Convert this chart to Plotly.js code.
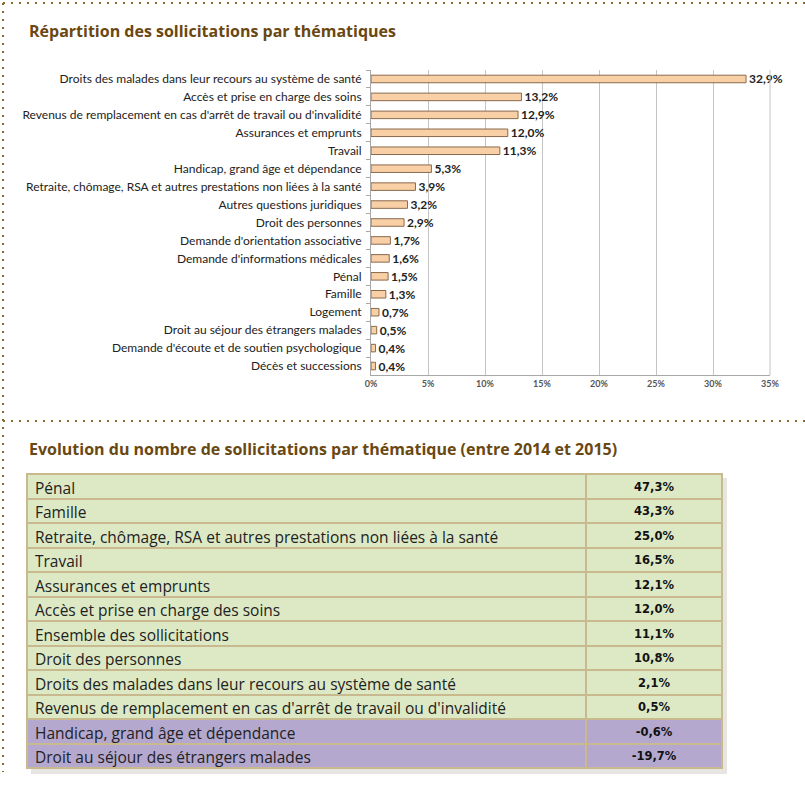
<!DOCTYPE html>
<html>
<head>
<meta charset="utf-8">
<script src="https://cdn.plot.ly/plotly-3.0.1.min.js"></script>
<style>html,body{margin:0;padding:0;background:#fff;}#chart{width:805px;height:800px;}</style>
</head>
<body>
<div id="chart"></div>
<script>
// ---- Data: Répartition des sollicitations par thématiques ----
var themes = [
  "Droits des malades dans leur recours au système de santé",
  "Accès et prise en charge des soins",
  "Revenus de remplacement en cas d'arrêt de travail ou d'invalidité",
  "Assurances et emprunts",
  "Travail",
  "Handicap, grand âge et dépendance",
  "Retraite, chômage, RSA et autres prestations non liées à la santé",
  "Autres questions juridiques",
  "Droit des personnes",
  "Demande d'orientation associative",
  "Demande d'informations médicales",
  "Pénal",
  "Famille",
  "Logement",
  "Droit au séjour des étrangers malades",
  "Demande d'écoute et de soutien psychologique",
  "Décès et successions"
];
var shares = [32.9, 13.2, 12.9, 12.0, 11.3, 5.3, 3.9, 3.2, 2.9, 1.7, 1.6, 1.5, 1.3, 0.7, 0.5, 0.4, 0.4];
var xTicks = [0, 5, 10, 15, 20, 25, 30, 35];

// ---- Data: Evolution 2014-2015 ----
var evoThemes = [
  "Pénal",
  "Famille",
  "Retraite, chômage, RSA et autres prestations non liées à la santé",
  "Travail",
  "Assurances et emprunts",
  "Accès et prise en charge des soins",
  "Ensemble des sollicitations",
  "Droit des personnes",
  "Droits des malades dans leur recours au système de santé",
  "Revenus de remplacement en cas d'arrêt de travail ou d'invalidité",
  "Handicap, grand âge et dépendance",
  "Droit au séjour des étrangers malades"
];
var evoValues = [47.3, 43.3, 25.0, 16.5, 12.1, 12.0, 11.1, 10.8, 2.1, 0.5, -0.6, -19.7];

var fmt = function(v){ return v.toFixed(1).replace('.', ',') + '%'; };
var nb = function(s){ return s.replace(/ /g, '\u00a0'); };

var W = 805, H = 800;
var px = function(x){ return x / W; };
var py = function(y){ return 1 - y / H; };

var green = '#dde9c5', purple = '#b4a8cf', border = '#c9b98e';
var rowFill = evoValues.map(function(v){ return v < 0 ? purple : green; });
var labelCol = evoThemes.map(nb);
var valueCol = evoValues.map(fmt);

var barTrace = {
  type: 'bar',
  orientation: 'h',
  y: themes,
  x: shares,
  width: 0.42,
  marker: {color: '#f9cfa6', line: {color: '#8a6a4e', width: 1}},
  text: shares.map(fmt),
  textposition: 'outside',
  constraintext: 'none',
  textfont: {family: 'Lato, sans-serif', size: 12, color: '#222', weight: 'bold'},
  cliponaxis: false,
  hoverinfo: 'x+y',
  xaxis: 'x', yaxis: 'y'
};

var rowH = 24.5;
var fonts = {
  family: ['Open Sans, sans-serif', 'DejaVu Sans, sans-serif'],
  size: [15.5, 11.5],
  color: ['#222', '#111'],
  weight: ['normal', 'bold']
};
var tableTrace = {
  type: 'table',
  domain: {x: [px(27), px(722)], y: [py(769), py(474)]},
  columnwidth: [559, 136],
  header: {
    values: [[labelCol[0]], [valueCol[0]]],
    align: ['left', 'center'],
    height: rowH,
    fill: {color: [rowFill[0], rowFill[0]]},
    line: {color: border, width: 2},
    font: fonts
  },
  cells: {
    values: [labelCol.slice(1), valueCol.slice(1)],
    align: ['left', 'center'],
    height: rowH,
    fill: {color: [rowFill.slice(1), rowFill.slice(1)]},
    line: {color: border, width: 2},
    font: fonts
  }
};

var dotColor = '#8a6a2a';
var dotLine = {color: dotColor, width: 2, dash: '2px,6px'};
var titleFont = {family: 'Open Sans, sans-serif', size: 16, color: '#6a4812', weight: 'bold'};

var layout = {
  width: W, height: H,
  margin: {l: 0, r: 0, t: 0, b: 0},
  paper_bgcolor: '#fff',
  plot_bgcolor: '#fff',
  showlegend: false,
  xaxis: {
    domain: [px(371), px(770)],
    anchor: 'y',
    range: [0, 35],
    tickvals: xTicks,
    ticktext: xTicks.map(function(t){ return t + '%'; }),
    showgrid: true, gridcolor: '#c4c4c4', gridwidth: 1,
    showline: true, linecolor: '#a8a8a8', linewidth: 1,
    ticks: '', zeroline: false,
    tickfont: {family: 'Lato, sans-serif', size: 9, color: '#555', weight: 'bold'}
  },
  yaxis: {
    domain: [py(375), py(70)],
    anchor: 'x',
    type: 'category',
    autorange: 'reversed',
    showline: true, linecolor: '#a8a8a8', linewidth: 1,
    ticks: 'outside', ticklen: 4, tickcolor: '#a8a8a8', tickson: 'boundaries',
    ticklabelstandoff: 6,
    showgrid: false,
    tickfont: {family: 'Lato, sans-serif', size: 12, color: '#222'}
  },
  shapes: [
    {type: 'line', xref: 'paper', yref: 'paper', x0: px(3), x1: 1, y0: py(3), y1: py(3), line: dotLine},
    {type: 'line', xref: 'paper', yref: 'paper', x0: px(3), x1: px(3), y0: py(3), y1: py(772), line: dotLine},
    {type: 'line', xref: 'paper', yref: 'paper', x0: px(3), x1: 1, y0: py(421), y1: py(421), line: dotLine},
    {type: 'line', xref: 'paper', yref: 'paper', x0: px(770), x1: px(770), y0: py(375), y1: py(70), line: {color: '#c4c4c4', width: 1}},
    {type: 'rect', xref: 'paper', yref: 'paper', layer: 'below', x0: px(31), x1: px(727), y0: py(774), y1: py(478), fillcolor: 'rgba(120,110,90,0.18)', line: {width: 0}}
  ],
  annotations: [
    {text: 'Répartition des sollicitations par thématiques', xref: 'paper', yref: 'paper', x: px(27), y: py(31), xanchor: 'left', yanchor: 'middle', showarrow: false, font: titleFont},
    {text: 'Evolution du nombre de sollicitations par thématique (entre 2014 et 2015)', xref: 'paper', yref: 'paper', x: px(27), y: py(449), xanchor: 'left', yanchor: 'middle', showarrow: false, font: titleFont}
  ]
};

Plotly.newPlot('chart', [barTrace, tableTrace], layout, {displayModeBar: false, staticPlot: true});
</script>
</body>
</html>
